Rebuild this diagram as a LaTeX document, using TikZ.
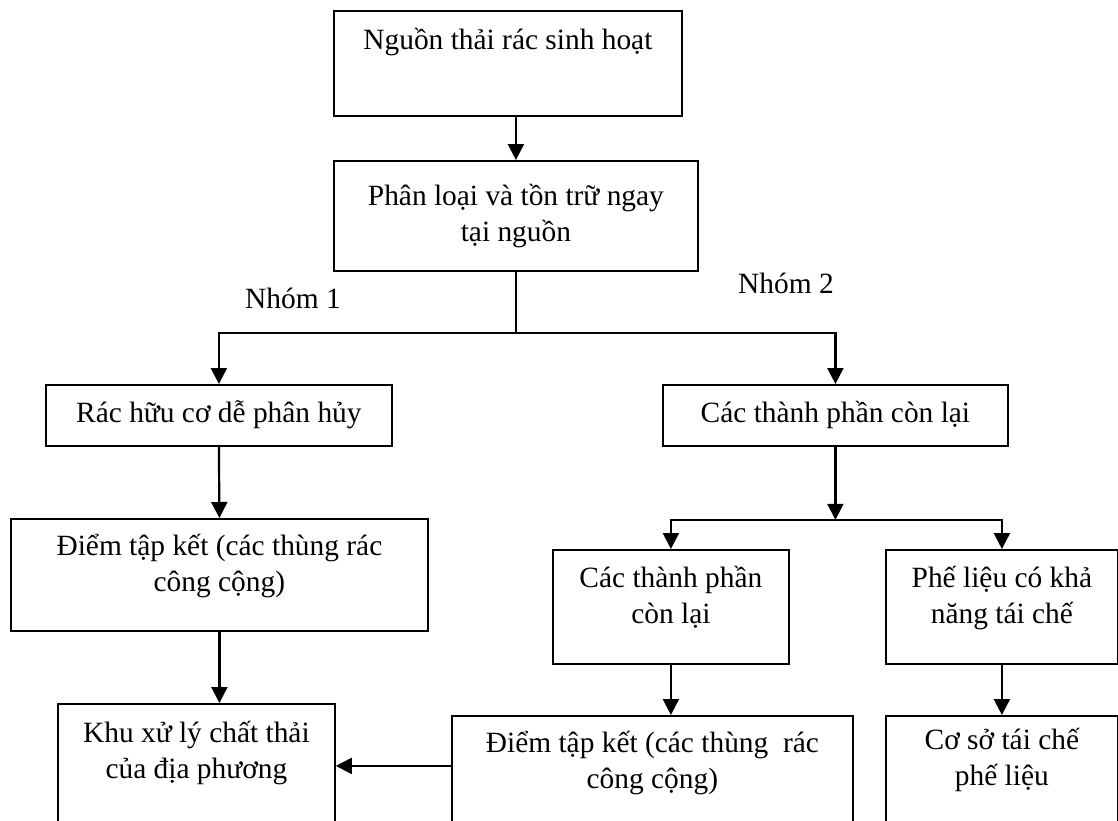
\documentclass[tikz,border=0pt]{standalone}
\usepackage{fontspec}
\setmainfont{Liberation Serif}
\usetikzlibrary{arrows.meta}
% width, height, first baseline, text (all in px = pt)
\newcommand{\cellbox}[4]{\parbox[t][#2pt][t]{#1pt}{\centering\rule{0pt}{#3pt}#4}}

\begin{document}
\begin{tikzpicture}[x=1pt,y=-1pt,line width=1.8pt,
		box/.style={draw,inner sep=0pt,anchor=north west,font=\fontsize{29.4}{36}\selectfont},
		lbl/.style={anchor=base,inner sep=0pt,font=\fontsize{29.4}{36}\selectfont},
		arr/.style={line width=2.2pt,-{Triangle[width=16pt,length=16pt]}}]
		\useasboundingbox (0,0) rectangle (1118,820);
		\clip (0,0) rectangle (1118,820);
		% boxes
		\node[box] (src) at (333,10) {\cellbox{348}{105}{39}{Nguồn thải rác sinh hoạt}};
		\node[box] (sort) at (333,160) {\cellbox{364}{110}{45}{Phân loại và tồn trữ ngay\\tại nguồn}};
		\node[box] (org) at (45,384) {\cellbox{346}{61}{38}{Rác hữu cơ dễ phân hủy}};
		\node[box] (rest) at (662,384) {\cellbox{345}{61}{38}{Các thành phần còn lại}};
		\node[box] (pt1) at (10,518) {\cellbox{417}{112}{37}{Điểm tập kết (các thùng rác\\công cộng)}};
		\node[box] (rem) at (552,549) {\cellbox{236}{114}{38}{Các thành phần\\còn lại}};
		\node[box] (recy) at (885,549) {\cellbox{232}{114}{38}{Phế liệu có khả\\năng tái chế}};
		\node[box] (dump) at (57,703) {\cellbox{277}{124}{39}{Khu xử lý chất thải\\của địa phương}};
		\node[box] (pt2) at (451,715) {\cellbox{401}{120}{37}{Điểm tập kết (các thùng~~rác\\công cộng)}};
		\node[box] (fac) at (885,715) {\cellbox{232}{120}{34}{Cơ sở tái chế\\phế liệu}};
		\node[lbl] (grp1) at (293,308) {Nhóm 1};
		\node[lbl] (grp2) at (786,293) {Nhóm 2};
		% arrows
		\draw[arr] (src.south -| sort.north) -- (sort.north);
		\draw[arr] (sort.south) -- ++(0,61) -| (org.north);
		\draw[arr] (sort.south) -- ++(0,61) -| (rest.north);
		\draw[arr] (org.south) -- (pt1.north);
		\draw[arr] (pt1.south) -- (pt1.south |- dump.north);
		\path (rest.south) ++(0,73) coordinate (fork);
		\draw[arr] (rest.south) -- (fork);
		\draw[arr] (fork) -| (rem.north);
		\draw[arr] (fork) -| (recy.north);
		\draw[arr] (rem.south) -- (rem.south |- pt2.north);
		\draw[arr] (recy.south) -- (fac.north);
		\draw[arr] (pt2.west |- dump.east) -- (dump.east);
	\end{tikzpicture}
\end{document}
